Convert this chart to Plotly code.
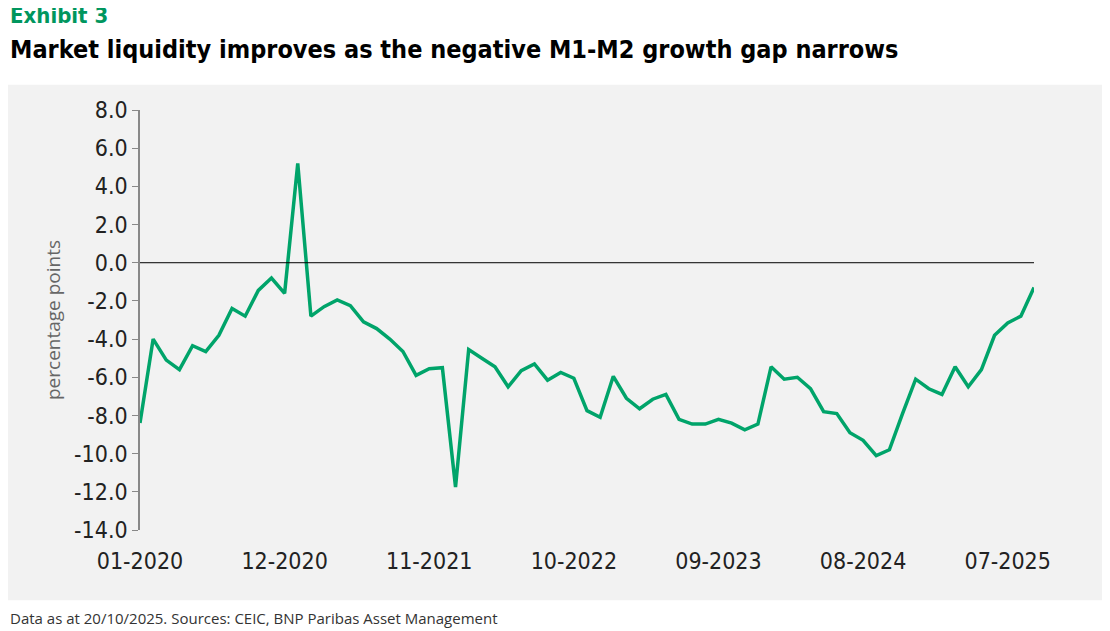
import plotly.graph_objects as go

values = [-8.4, -4.0, -5.1, -5.6, -4.35, -4.65, -3.8, -2.4, -2.8, -1.45, -0.8, -1.6,
          5.2, -2.8, -2.3, -1.95, -2.25, -3.1, -3.45, -4.0, -4.65, -5.9, -5.55, -5.5,
          -11.75, -4.55, -5.0, -5.45, -6.5, -5.65, -5.3, -6.15, -5.75, -6.05, -7.75, -8.1,
          -5.95, -7.1, -7.65, -7.15, -6.9, -8.2, -8.45, -8.45, -8.2, -8.4, -8.75, -8.45,
          -5.45, -6.1, -6.0, -6.6, -7.8, -7.9, -8.9, -9.3, -10.1, -9.8, -7.9, -6.1,
          -6.6, -6.9, -5.45, -6.5, -5.6, -3.8, -3.15, -2.8, -1.3]
tick_index = [0, 11, 22, 33, 44, 55, 66]
tick_labels = ["01-2020", "12-2020", "11-2021", "10-2022", "09-2023", "08-2024", "07-2025"]
y_ticks = [8, 6, 4, 2, 0, -2, -4, -6, -8, -10, -12, -14]

x = list(range(len(values)))
fig = go.Figure(go.Scatter(x=x, y=values, mode="lines",
                           line=dict(color="#00a46a", width=3.5)))
fig.update_layout(
    width=1102, height=623, margin=dict(l=132, r=76, t=102, b=101),
    paper_bgcolor="white", plot_bgcolor="#f2f2f2", showlegend=False,
    font=dict(family="DejaVu Sans Condensed", color="#222"),
    shapes=[dict(type="rect", xref="paper", yref="paper", x0=-0.148, x1=1.085,
                 y0=-0.167, y1=1.06, fillcolor="#f2f2f2", line=dict(width=0), layer="below"),
            dict(type="line", xref="paper", yref="y", x0=0, x1=1, y0=0, y1=0,
                 line=dict(color="black", width=1))],
    annotations=[
        dict(text="<b>Exhibit 3</b>", xref="paper", yref="paper", x=-0.148, y=1.226,
             xanchor="left", yanchor="middle", showarrow=False,
             font=dict(size=22, color="#00965e", family="DejaVu Sans Condensed")),
        dict(text="<b>Market liquidity improves as the negative M1-M2 growth gap narrows</b>",
             xref="paper", yref="paper", x=-0.148, y=1.143, xanchor="left", yanchor="middle",
             showarrow=False, font=dict(size=25, color="black", family="DejaVu Sans Condensed")),
        dict(text="Data as at 20/10/2025. Sources: CEIC, BNP Paribas Asset Management",
             xref="paper", yref="paper", x=-0.148, y=-0.21, xanchor="left", yanchor="middle",
             showarrow=False, font=dict(size=15, color="#333", family="Open Sans")),
    ],
)
fig.update_xaxes(range=[0, len(values) - 1], tickvals=tick_index, ticktext=tick_labels,
                 showgrid=False, zeroline=False, showline=False,
                 ticks="outside", ticklen=10, tickcolor="rgba(0,0,0,0)",
                 tickfont=dict(size=23, color="#222"))
fig.update_yaxes(range=[-14, 8], tickvals=y_ticks, ticktext=[f"{v:.1f}" for v in y_ticks],
                 showgrid=False, zeroline=False, showline=True, linecolor="#888", linewidth=1.5,
                 ticks="outside", tickcolor="#888", ticklen=6,
                 tickfont=dict(size=23, color="#222"),
                 title=dict(text="percentage points", font=dict(size=19, color="#666", family="Open Sans"),
                            standoff=8))
fig.write_html("out.html")
